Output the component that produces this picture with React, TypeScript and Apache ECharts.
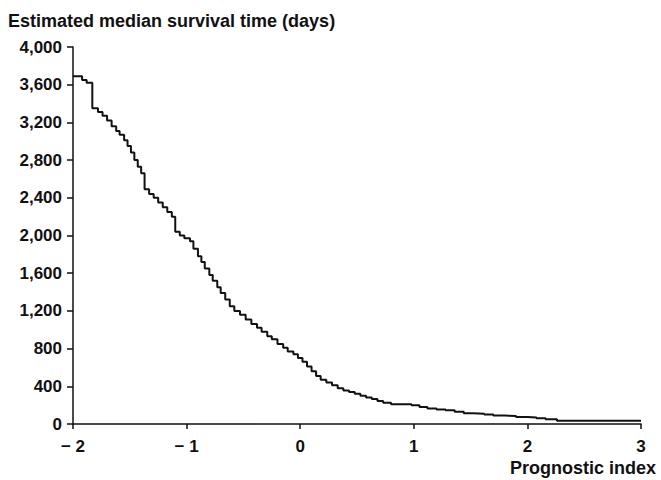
import React, { useEffect, useRef } from "react";
import * as echarts from "echarts";

const yAxisTitle = "Estimated median survival time (days)";
const xAxisTitle = "Prognostic index";

const prognosticIndex = [
  -2.0, -1.92, -1.88, -1.83, -1.78, -1.74, -1.7, -1.66, -1.62, -1.59, -1.55, -1.52,
  -1.49, -1.46, -1.43, -1.4, -1.37, -1.33, -1.29, -1.25, -1.21, -1.17, -1.13, -1.1,
  -1.06, -1.02, -0.97, -0.94, -0.9, -0.87, -0.84, -0.8, -0.77, -0.73, -0.7, -0.66,
  -0.62, -0.58, -0.53, -0.48, -0.43, -0.38, -0.34, -0.29, -0.25, -0.2, -0.15, -0.11,
  -0.06, -0.02, 0.02, 0.06, 0.1, 0.14, 0.18, 0.23, 0.28, 0.33, 0.38, 0.43, 0.48,
  0.53, 0.58, 0.63, 0.68, 0.73, 0.8, 0.98, 1.05, 1.12, 1.2, 1.28, 1.36, 1.44, 1.52,
  1.62, 1.7, 1.8, 1.9, 2.0, 2.08, 2.16, 2.26, 3.0,
];

const medianSurvival = [
  3690, 3650, 3620, 3350, 3310, 3270, 3220, 3160, 3110, 3070, 3010, 2950,
  2880, 2800, 2730, 2660, 2490, 2440, 2400, 2350, 2300, 2250, 2200, 2040,
  2000, 1970, 1940, 1860, 1780, 1720, 1650, 1580, 1520, 1450, 1390, 1320,
  1250, 1200, 1160, 1110, 1060, 1020, 980, 930, 900, 850, 810, 770,
  740, 700, 660, 610, 560, 510, 470, 440, 410, 380, 355, 340, 320,
  300, 280, 265, 245, 225, 210, 200, 180, 165, 155, 145, 130, 115, 110,
  100, 90, 85, 75, 70, 60, 50, 35, 35,
];

const FONT = "'Liberation Sans', Arial, Helvetica, sans-serif";

export default function App() {
  const ref = useRef<HTMLDivElement>(null);
  useEffect(() => {
    if (!ref.current) return;
    const chart = echarts.init(ref.current, null, { renderer: "svg" });
    const data = prognosticIndex.map((x, i) => [x, medianSurvival[i]]);
    chart.setOption({
      animation: false,
      backgroundColor: "#ffffff",
      textStyle: { fontFamily: FONT },
      title: [
        {
          text: yAxisTitle,
          left: 8,
          top: 12,
          padding: 0,
          textStyle: { fontFamily: FONT, fontSize: 18, fontWeight: "bold", color: "#111" },
        },
        {
          text: xAxisTitle,
          right: 5,
          top: 459,
          padding: 0,
          textStyle: { fontFamily: FONT, fontSize: 18, fontWeight: "bold", color: "#111" },
        },
      ],
      grid: { left: 73, right: 20, top: 47, bottom: 56, containLabel: false },
      xAxis: {
        type: "value",
        min: -2,
        max: 3,
        interval: 1,
        splitLine: { show: false },
        axisLine: { show: true, onZero: false, lineStyle: { color: "#111", width: 1.5 } },
        axisTick: { show: true, inside: false, length: 5, lineStyle: { color: "#111", width: 1.5 } },
        axisLabel: {
          margin: 14,
          color: "#111",
          fontFamily: FONT,
          fontSize: 17,
          fontWeight: "bold",
          formatter: (v: number) => (v < 0 ? "\u2212 " + Math.abs(v) : String(v)),
        },
      },
      yAxis: {
        type: "value",
        min: 0,
        max: 4000,
        interval: 400,
        splitLine: { show: false },
        axisLine: { show: true, onZero: false, lineStyle: { color: "#111", width: 1.5 } },
        axisTick: { show: true, inside: false, length: 6, lineStyle: { color: "#111", width: 1.5 } },
        axisLabel: {
          margin: 11,
          color: "#111",
          fontFamily: FONT,
          fontSize: 17,
          fontWeight: "bold",
          formatter: (v: number) => v.toLocaleString("en-US"),
        },
      },
      series: [
        {
          type: "line",
          step: "end",
          data,
          showSymbol: false,
          symbol: "none",
          lineStyle: { color: "#111", width: 2 },
        },
      ],
    });
    return () => chart.dispose();
  }, []);
  return <div ref={ref} style={{ width: 661, height: 480, position: "absolute", left: 0, top: 0 }} />;
}
